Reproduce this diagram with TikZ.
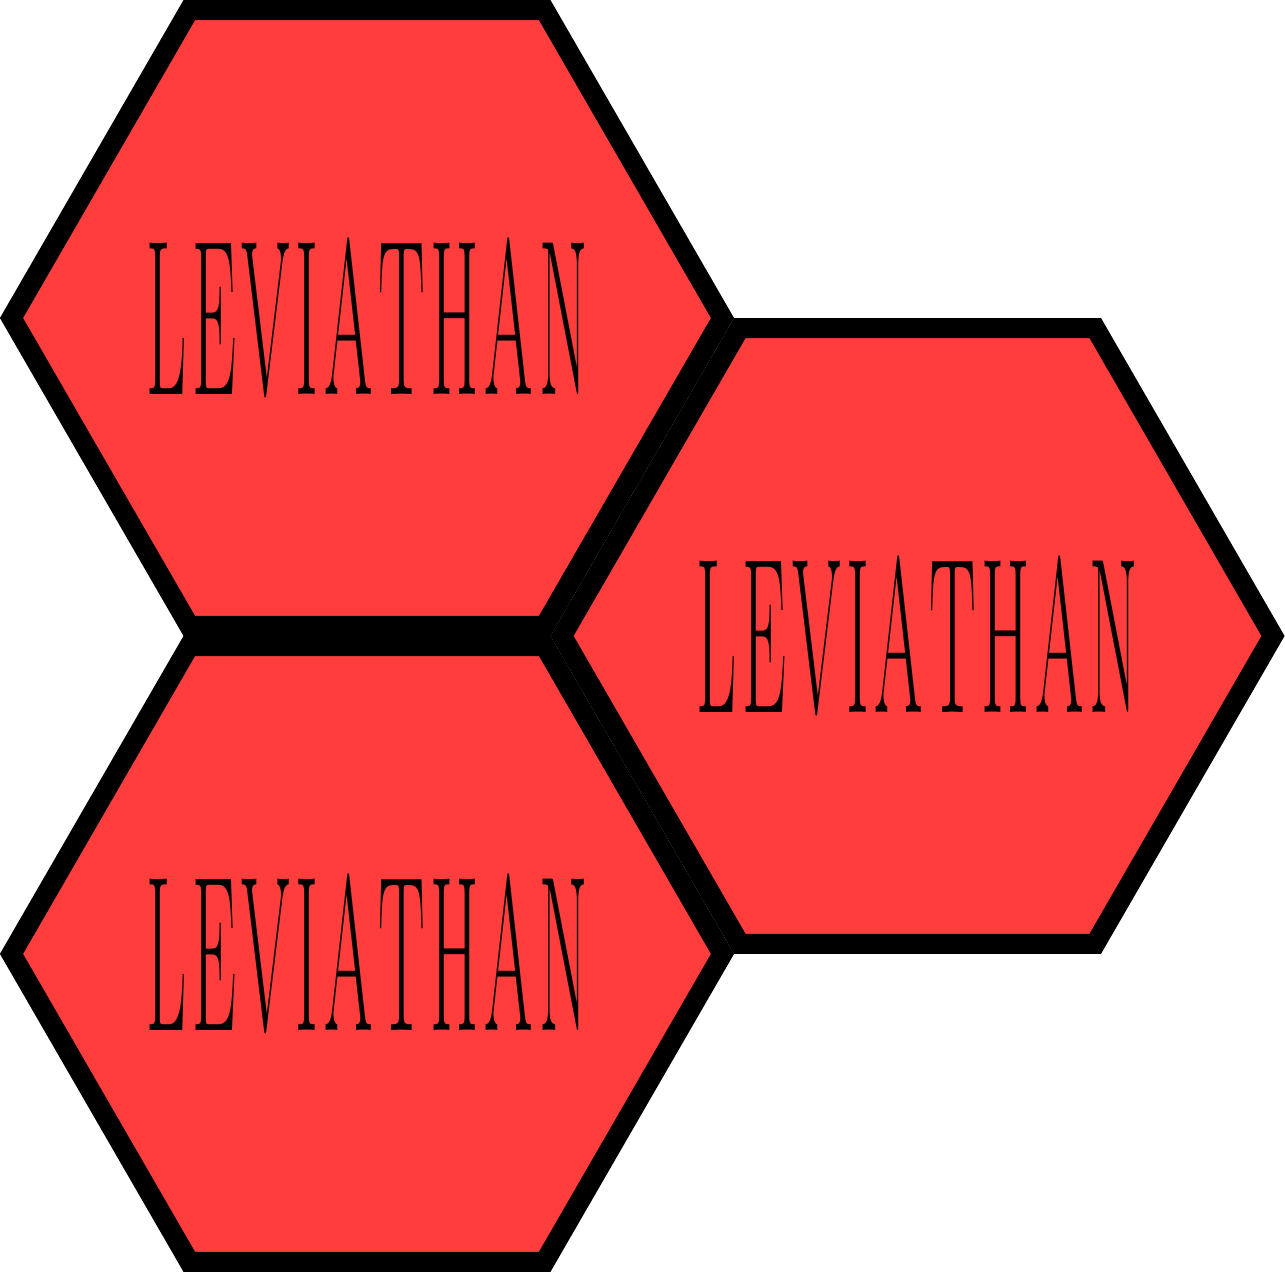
\documentclass[tikz,border=0pt]{standalone}
\usepackage{graphicx}
\usetikzlibrary{positioning,shapes.geometric,calc}
\definecolor{hexred}{RGB}{255,61,61}

% tall, letter-spaced word
\newcommand{\tallword}[1]{\scalebox{1}[3.17]{\foreach \ch [count=\k] in {#1}{\ifnum\k>1\kern1.6pt\fi\ch}}}

\begin{document}
\begin{tikzpicture}[
  hexcell/.style={regular polygon, regular polygon sides=6, minimum size=71.1mm,
    draw, line width=2mm, fill=hexred, inner sep=-1cm,
    font=\fontsize{19.9}{20}\selectfont}
]
\useasboundingbox (-3.67,3.18) rectangle (9.18,-9.54);
\node[hexcell] (top) at (0,0) {\tallword{L,E,V,I,A,T,H,A,N}};
\node[hexcell, below=0pt of top] (bottom) {\tallword{L,E,V,I,A,T,H,A,N}};
\node[hexcell] (right) at ($(top.center)!.5!(bottom.center)+(5.505,0)$) {\tallword{L,E,V,I,A,T,H,A,N}};
\end{tikzpicture}
\end{document}
